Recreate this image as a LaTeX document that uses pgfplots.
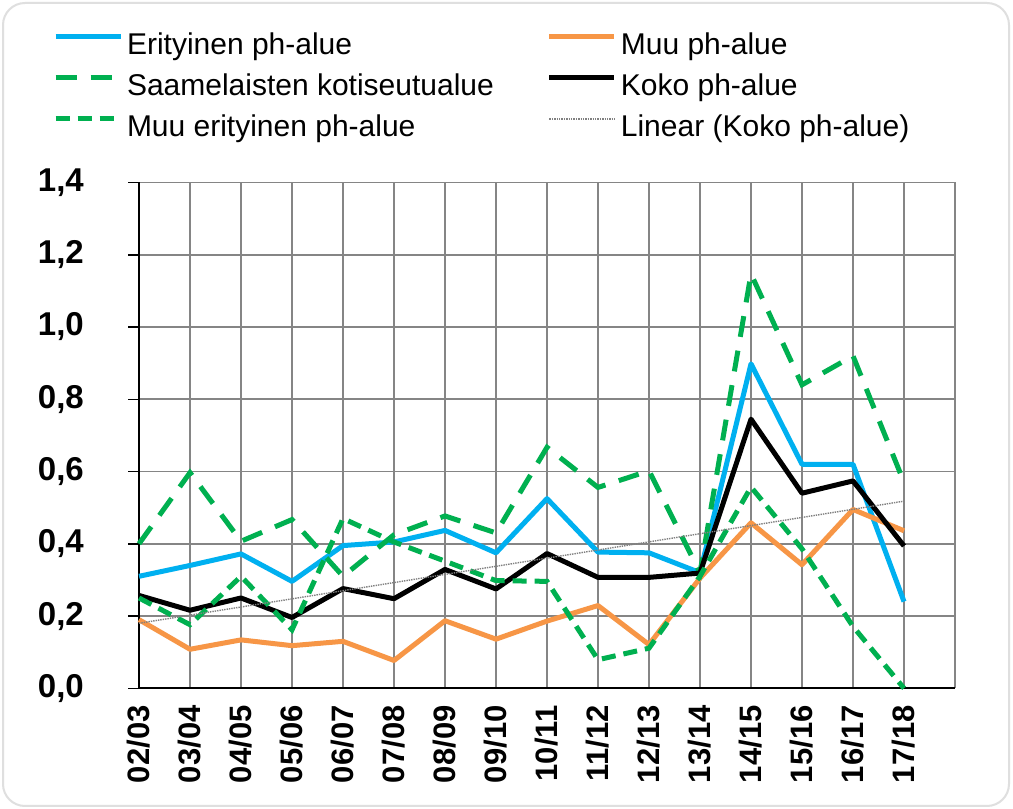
\documentclass[border=0pt]{standalone}
\usepackage{pgfplots}
\pgfplotsset{compat=1.18}
\usepackage{fontspec}
\setmainfont{Liberation Sans}
\definecolor{cblue}{HTML}{00B0F0}
\definecolor{corange}{HTML}{F79646}
\definecolor{cgreen}{HTML}{00B050}
\definecolor{cgrid}{HTML}{858585}
\begin{document}
\begin{tikzpicture}
\useasboundingbox (0,0) rectangle (1013bp,809bp);
\fill[white] (0,0) rectangle (1013bp,809bp);
\draw[gray!25, line width=2bp, rounded corners=22bp] (3bp,3bp) rectangle (1009bp,806bp);
\begin{axis}[
  at={(139bp,120.7bp)}, anchor=south west,
  scale only axis, width=816bp, height=505.8bp,
  xmin=0, xmax=16, ymin=0, ymax=1.4,
  axis x line*=bottom, axis y line*=left,
  axis line style={black, line width=2bp, -},
  xtick={0,...,16},
  xticklabels={02/03,03/04,04/05,05/06,06/07,07/08,08/09,09/10,10/11,11/12,12/13,13/14,14/15,15/16,16/17,17/18,{}},
  ytick={0,0.2,0.4,0.6,0.8,1.0,1.2,1.4},
  yticklabels={{0,0},{0,2},{0,4},{0,6},{0,8},{1,0},{1,2},{1,4}},
  grid=major,
  major grid style={cgrid, line width=1.7bp},
  xtick style={draw=none},
  ytick style={black, line width=1.5bp},
  major tick length=11bp,
  tick align=outside,
  xticklabel style={rotate=90, anchor=east, inner sep=0pt, font=\fontsize{31bp}{31bp}\selectfont\bfseries},
  yticklabel style={anchor=east, inner sep=0pt, xshift=-16bp, font=\fontsize{33bp}{33bp}\selectfont\bfseries},
  xticklabel shift=6bp,
  yticklabel shift=28bp,
  clip=false,
  legend columns=2,
  legend cell align=left,
  legend style={at={(axis description cs:-0.1054,1.2976)}, anchor=north west, draw=none, fill=none,
    inner sep=0pt, outer sep=0pt, font=\fontsize{30bp}{36bp}\selectfont,
    nodes={inner sep=2bp, text height=21bp, text depth=6bp},
    row sep=10bp,
    /tikz/every odd column/.append style={column sep=2bp},
    /tikz/every even column/.append style={column sep=51bp}},
  legend image code/.code={\draw[#1] (0bp,10.5bp) -- (65bp,10.5bp);},
]
\addplot[cblue, line width=5bp, line join=round] coordinates {
 (0,0.31) (1,0.34) (2,0.372) (3,0.296) (4,0.395) (5,0.405) (6,0.437) (7,0.375)
 (8,0.525) (9,0.377) (10,0.375) (11,0.32) (12,0.898) (13,0.62) (14,0.62) (15,0.24)};
\addlegendentry{Erityinen ph-alue}
\addplot[corange, line width=5bp, line join=round] coordinates {
 (0,0.19) (1,0.108) (2,0.134) (3,0.118) (4,0.13) (5,0.077) (6,0.187) (7,0.136)
 (8,0.186) (9,0.229) (10,0.121) (11,0.305) (12,0.458) (13,0.342) (14,0.495) (15,0.436)};
\addlegendentry{Muu ph-alue}
\addplot[cgreen, line width=5bp, dash pattern=on 21bp off 14bp] coordinates {
 (0,0.40) (1,0.597) (2,0.407) (3,0.467) (4,0.31) (5,0.425) (6,0.477) (7,0.43)
 (8,0.667) (9,0.556) (10,0.602) (11,0.32) (12,1.147) (13,0.84) (14,0.92) (15,0.57)};
\addlegendentry{Saamelaisten kotiseutualue}
\addplot[black, line width=5bp, line join=round] coordinates {
 (0,0.257) (1,0.216) (2,0.25) (3,0.196) (4,0.276) (5,0.248) (6,0.329) (7,0.275)
 (8,0.373) (9,0.307) (10,0.307) (11,0.319) (12,0.745) (13,0.54) (14,0.574) (15,0.394)};
\addlegendentry{Koko ph-alue}
\addplot[cgreen, line width=5bp, dash pattern=on 14bp off 8bp] coordinates {
 (0,0.25) (1,0.176) (2,0.31) (3,0.162) (4,0.47) (5,0.405) (6,0.352) (7,0.298)
 (8,0.296) (9,0.079) (10,0.111) (11,0.31) (12,0.557) (13,0.386) (14,0.171) (15,0.0)};
\addlegendentry{Muu erityinen ph-alue}
\addplot[gray, line width=1.4bp, densely dotted] coordinates {(0,0.180) (15,0.518)};
\addlegendentry{Linear (Koko ph-alue)}
\end{axis}
\end{tikzpicture}
\end{document}
